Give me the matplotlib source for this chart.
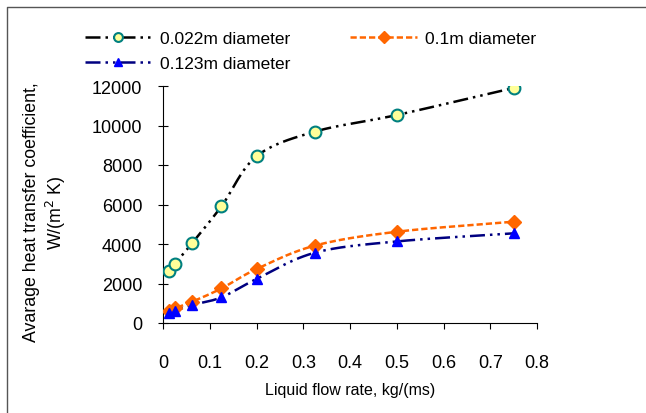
import numpy as np
import matplotlib.pyplot as plt
from matplotlib.lines import Line2D

plt.rcParams['font.family'] = ['Liberation Sans', 'DejaVu Sans']

flow = [0.0125, 0.025, 0.0625, 0.125, 0.2, 0.325, 0.5, 0.75]
h_022 = [2650, 2990, 4050, 5910, 8440, 9690, 10530, 11900]
h_100 = [590, 740, 1080, 1750, 2730, 3920, 4620, 5130]
h_123 = [490, 620, 910, 1300, 2230, 3560, 4130, 4540]
labels = ['0.022m diameter', '0.1m diameter', '0.123m diameter']


def smooth(x, y, n=30):
    # catmull-rom curve through the points, like Excel's smoothed line
    x = np.asarray(x, float)
    y = np.asarray(y, float)
    px = np.concatenate([[2 * x[0] - x[1]], x, [2 * x[-1] - x[-2]]])
    py = np.concatenate([[2 * y[0] - y[1]], y, [2 * y[-1] - y[-2]]])
    t = np.linspace(0, 1, n)
    xs, ys = [], []
    for i in range(1, len(px) - 2):
        for p, out in ((px, xs), (py, ys)):
            p0, p1, p2, p3 = p[i - 1], p[i], p[i + 1], p[i + 2]
            out.append(0.5 * (2 * p1 + (-p0 + p2) * t
                              + (2 * p0 - 5 * p1 + 4 * p2 - p3) * t ** 2
                              + (-p0 + 3 * p1 - 3 * p2 + p3) * t ** 3))
    return np.concatenate(xs), np.concatenate(ys)


fig = plt.figure(figsize=(6.46, 4.14), dpi=100)
ax = fig.add_axes([163 / 646, 1 - 324 / 414, 374 / 646, 237 / 414])

ddot = (0, (6, 2, 1, 2, 1, 2))
styles = [
    dict(color='black', ls=ddot, marker='o', mfc='#FFFF99', mec='#008080', ms=8.5, mew=1.5),
    dict(color='#FF6600', ls=(0, (2.5, 1.2)), marker='D', mfc='#FF6600', mec='#FF6600', ms=7.5, mew=1),
    dict(color='#000080', ls=ddot, marker='^', mfc='#0000FF', mec='#0000FF', ms=7.5, mew=1),
]
handles = []
for ys, st, lab in zip([h_022, h_100, h_123], styles, labels):
    sx, sy = smooth(flow, ys)
    ax.plot(sx, sy, color=st['color'], ls=st['ls'], lw=1.8, zorder=2)
    ax.plot(flow, ys, ls='none', marker=st['marker'], mfc=st['mfc'], mec=st['mec'],
            ms=st['ms'], mew=st['mew'], zorder=3)
    h, = ax.plot([], [], color=st['color'], ls=st['ls'], lw=1.8, marker=st['marker'],
                 mfc=st['mfc'], mec=st['mec'], ms=st['ms'] * 0.75, mew=st['mew'], label=lab)
    handles.append(h)

ax.set_xlim(0, 0.8)
ax.set_ylim(0, 12000)
ax.set_xticks(np.arange(0, 0.81, 0.1))
ax.set_xticklabels(['0', '0.1', '0.2', '0.3', '0.4', '0.5', '0.6', '0.7', '0.8'])
ax.set_yticks(range(0, 12001, 2000))
ax.spines['top'].set_visible(False)
ax.spines['right'].set_visible(False)
ax.tick_params(axis='y', direction='inout', length=7, labelsize=13, pad=11.5)
ax.tick_params(axis='x', direction='out', length=4, labelsize=13, pad=18.5)
ax.set_xlabel('Liquid flow rate, kg/(ms)', fontsize=11.5, labelpad=7.5)
ax.set_ylabel('Avarage heat transfer coefficient,\nW/(m$^2$ K)', fontsize=12.8, labelpad=17,
              linespacing=1.2)
ax.yaxis.label.set_y(0.47)

fig.legend(handles=[handles[0], handles[2], handles[1]],
           labels=[labels[0], labels[2], labels[1]], ncol=2, frameon=False,
           loc='upper left', bbox_to_anchor=(85 / 646, 1 - 32 / 414), fontsize=12.5,
           borderpad=0, borderaxespad=0, handlelength=3.85, columnspacing=3.45,
           numpoints=1, handletextpad=0.46, labelspacing=0.55)

# chart area border (only left and top edges fall inside the picture)
fig.add_artist(Line2D([7 / 646, 7 / 646, 1], [0, 1 - 8 / 414, 1 - 8 / 414],
                      transform=fig.transFigure, color='#555555', lw=1))
fig.savefig('out.png', dpi=100)
